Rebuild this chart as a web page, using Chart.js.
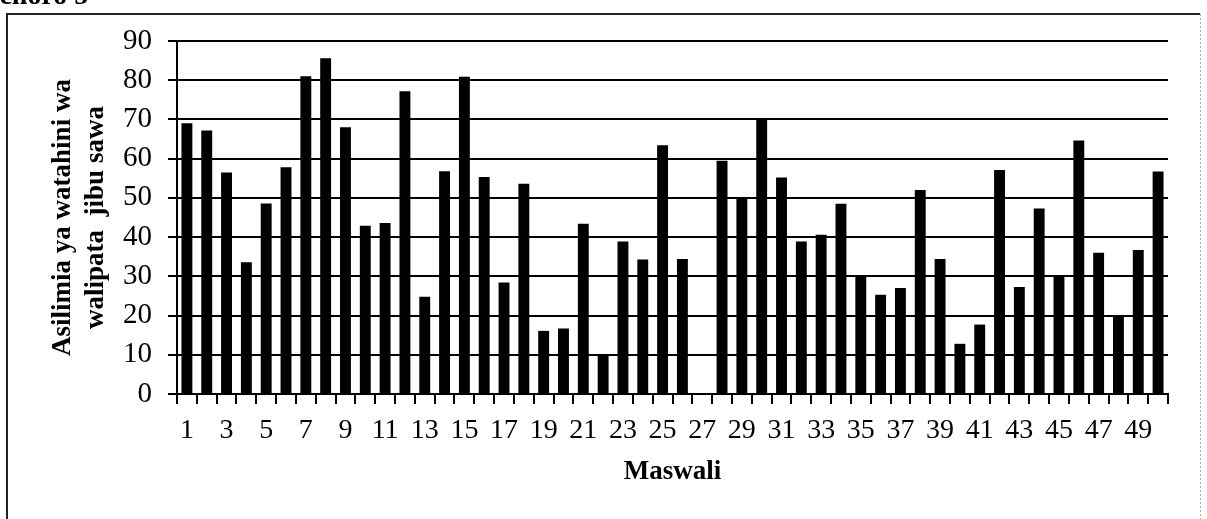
<!DOCTYPE html>
<html>
<head>
<meta charset="utf-8">
<script src="https://cdn.jsdelivr.net/npm/chart.js@4/dist/chart.umd.min.js"></script>
<style>
  html, body { margin: 0; padding: 0; background: #fff; overflow: hidden; }
  #wrap { position: relative; width: 1207px; height: 519px; }
  #c { position: absolute; left: 0; top: 0; }
  #fig { position: absolute; left: -27px; top: -19px; font-family: "Liberation Serif", "Times New Roman", serif;
         font-weight: bold; font-size: 28px; line-height: 1; color: #000; white-space: nowrap; }
</style>
</head>
<body>
<div id="wrap">
  <canvas id="c" width="1207" height="519"></canvas>
  <div id="fig">Mchoro 5</div>
</div>
<script>
const questions = ['1','2','3','4','5','6','7','8','9','10','11','12','13','14','15','16','17','18','19','20',
  '21','22','23','24','25','26','27','28','29','30','31','32','33','34','35','36','37','38','39','40',
  '41','42','43','44','45','46','47','48','49','50'];
const percentCorrect = [69, 67.2, 56.5, 33.6, 48.6, 57.8, 81, 85.6, 68, 42.9,
  43.6, 77.2, 24.8, 56.8, 80.9, 55.3, 28.4, 53.6, 16.1, 16.7,
  43.4, 10.2, 38.9, 34.3, 63.4, 34.4, 0, 59.5, 50, 70.3,
  55.2, 38.9, 40.6, 48.5, 30, 25.3, 27, 52, 34.4, 12.8,
  17.7, 57.1, 27.3, 47.3, 29.9, 64.6, 36, 20, 36.7, 56.7];
const xTickLabels = ['1','3','5','7','9','11','13','15','17','19','21','23','25','27','29','31','33','35','37','39','41','43','45','47','49'];
const yTickValues = [0, 10, 20, 30, 40, 50, 60, 70, 80, 90];
const yTitle = ['Asilimia ya watahini wa', 'walipata  jibu sawa'];
const xTitle = 'Maswali';

const serif = '"Liberation Serif", "Times New Roman", serif';

const frame = {
  id: 'frame',
  beforeDraw(chart) {
    const ctx = chart.ctx;
    ctx.save();
    ctx.fillStyle = '#fff';
    ctx.fillRect(0, 0, chart.width, chart.height);
    ctx.strokeStyle = '#222';
    ctx.lineWidth = 2;
    ctx.beginPath();
    ctx.moveTo(7, 530);
    ctx.lineTo(7, 14);
    ctx.lineTo(1200, 14);
    ctx.stroke();
    ctx.strokeStyle = '#aaa';
    ctx.lineWidth = 1;
    ctx.setLineDash([2, 2]);
    ctx.beginPath();
    ctx.moveTo(1200.5, 14);
    ctx.lineTo(1200.5, 530);
    ctx.stroke();
    ctx.restore();
  }
};

new Chart(document.getElementById('c'), {
  type: 'bar',
  data: {
    labels: questions,
    datasets: [{
      data: percentCorrect,
      backgroundColor: '#000',
      borderWidth: 0,
      barPercentage: 0.55,
      categoryPercentage: 1
    }]
  },
  options: {
    responsive: false,
    devicePixelRatio: 1,
    animation: false,
    layout: { padding: { left: 0, right: 39, top: 41, bottom: 0 } },
    plugins: { legend: { display: false }, tooltip: { enabled: false }, title: { display: false } },
    scales: {
      x: {
        offset: true,
        grid: { display: true, drawOnChartArea: false, drawTicks: true, tickLength: 10, color: '#000', lineWidth: 2, offset: true },
        border: { display: true, color: '#000', width: 2 },
        ticks: {
          autoSkip: false, maxRotation: 0, minRotation: 0, padding: 10, color: '#000',
          font: { family: serif, size: 28 },
          callback: function (v, i) { const l = questions[i]; return xTickLabels.includes(l) ? l : ''; }
        },
        title: { display: true, text: xTitle, color: '#000', font: { family: serif, size: 27, weight: 'bold', lineHeight: 1.2 }, padding: { top: 0, bottom: 31 } },
        afterFit: s => { s.height = 125; }
      },
      y: {
        min: 0, max: 90,
        afterBuildTicks: s => { s.ticks = yTickValues.map(v => ({ value: v })); },
        grid: { color: '#000', lineWidth: 2, tickLength: 9, drawTicks: true },
        border: { display: true, color: '#000', width: 2 },
        ticks: { padding: 16, color: '#000', font: { family: serif, size: 29 } },
        title: { display: true, text: yTitle, color: '#000', font: { family: serif, size: 27, weight: 'bold', lineHeight: 1.2 }, padding: { top: 47, bottom: 0 } },
        afterFit: s => { s.width = 177; }
      }
    }
  },
  plugins: [frame]
});
</script>
</body>
</html>
